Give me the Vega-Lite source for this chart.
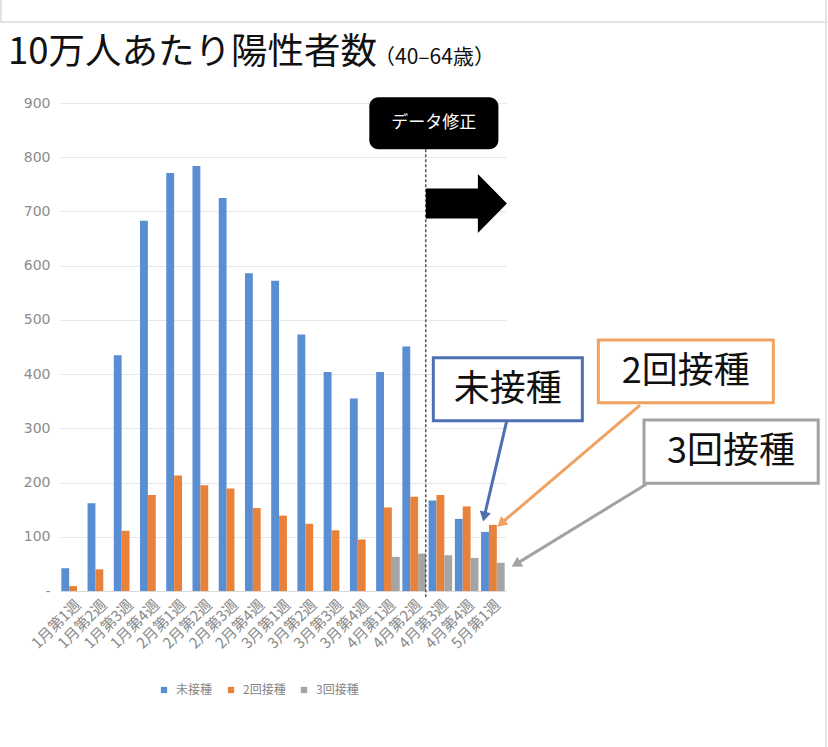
{
  "$schema": "https://vega.github.io/schema/vega-lite/v6.json",
  "width": 446,
  "height": 488,
  "autosize": {"type": "none"},
  "padding": {"left": 60, "top": 103, "right": 322, "bottom": 156},
  "background": "white",
  "datasets": {
    "bars": [
      {"week": "1月第1週", "type": "未接種", "value": 42},
      {"week": "1月第1週", "type": "2回接種", "value": 9},
      {"week": "1月第2週", "type": "未接種", "value": 162},
      {"week": "1月第2週", "type": "2回接種", "value": 40},
      {"week": "1月第3週", "type": "未接種", "value": 435},
      {"week": "1月第3週", "type": "2回接種", "value": 111},
      {"week": "1月第4週", "type": "未接種", "value": 683},
      {"week": "1月第4週", "type": "2回接種", "value": 177},
      {"week": "2月第1週", "type": "未接種", "value": 771},
      {"week": "2月第1週", "type": "2回接種", "value": 213},
      {"week": "2月第2週", "type": "未接種", "value": 784},
      {"week": "2月第2週", "type": "2回接種", "value": 195},
      {"week": "2月第3週", "type": "未接種", "value": 725},
      {"week": "2月第3週", "type": "2回接種", "value": 189},
      {"week": "2月第4週", "type": "未接種", "value": 586},
      {"week": "2月第4週", "type": "2回接種", "value": 153},
      {"week": "3月第1週", "type": "未接種", "value": 572},
      {"week": "3月第1週", "type": "2回接種", "value": 139},
      {"week": "3月第2週", "type": "未接種", "value": 473},
      {"week": "3月第2週", "type": "2回接種", "value": 124},
      {"week": "3月第3週", "type": "未接種", "value": 404},
      {"week": "3月第3週", "type": "2回接種", "value": 112},
      {"week": "3月第4週", "type": "未接種", "value": 355},
      {"week": "3月第4週", "type": "2回接種", "value": 95},
      {"week": "4月第1週", "type": "未接種", "value": 404},
      {"week": "4月第1週", "type": "2回接種", "value": 154},
      {"week": "4月第1週", "type": "3回接種", "value": 63},
      {"week": "4月第2週", "type": "未接種", "value": 451},
      {"week": "4月第2週", "type": "2回接種", "value": 174},
      {"week": "4月第2週", "type": "3回接種", "value": 69},
      {"week": "4月第3週", "type": "未接種", "value": 167},
      {"week": "4月第3週", "type": "2回接種", "value": 177},
      {"week": "4月第3週", "type": "3回接種", "value": 66},
      {"week": "4月第4週", "type": "未接種", "value": 133},
      {"week": "4月第4週", "type": "2回接種", "value": 156},
      {"week": "4月第4週", "type": "3回接種", "value": 61},
      {"week": "5月第1週", "type": "未接種", "value": 109},
      {"week": "5月第1週", "type": "2回接種", "value": 122},
      {"week": "5月第1週", "type": "3回接種", "value": 52}
    ],
    "callouts": [
      {"label": "未接種", "bx": 14.23, "bx2": 19.91, "by": 430.3, "by2": 314.1, "tx": 17.07, "ty": 370.7, "ax": 17.03, "ay": 314.1, "ax2": 16.17, "ay2": 137.0, "angle": 193},
      {"label": "2回接種", "bx": 20.52, "bx2": 27.19, "by": 462.9, "by2": 347.3, "tx": 23.85, "ty": 404.8, "ax": 22.11, "ay": 343.0, "ax2": 16.81, "ay2": 124.5, "angle": 229.5},
      {"label": "3回接種", "bx": 22.26, "bx2": 28.9, "by": 315.4, "by2": 198.6, "tx": 25.58, "ty": 256.9, "ax": 22.36, "ay": 197.3, "ax2": 17.38, "ay2": 49.6, "angle": 238.5}
    ],
    "frame": [
      {"x": -2.3, "x2": 29.3, "y": 1049.4, "y2": 1049.4},
      {"x": -2.25, "x2": -2.25, "y": 1090, "y2": 1049.4},
      {"x": 29.2, "x2": 29.2, "y": 1090, "y2": -288}
    ]
  },
  "resolve": {"scale": {"x": "independent"}},
  "layer": [
    {
      "data": {"name": "bars"},
      "mark": {"type": "bar"},
      "encoding": {
        "x": {
          "field": "week",
          "type": "nominal",
          "sort": null,
          "title": null,
          "scale": {"paddingInner": 0.1, "paddingOuter": 0.05},
          "axis": {
            "labelAngle": -45,
            "labelFont": "Noto Sans CJK JP",
            "labelFontSize": 15,
            "labelColor": "#8a8a8a",
            "labelPadding": 6,
            "ticks": false,
            "domainColor": "#d9d9d9",
            "grid": false
          }
        },
        "xOffset": {
          "field": "type",
          "type": "nominal",
          "sort": ["未接種", "2回接種", "3回接種"],
          "scale": {"domain": ["未接種", "2回接種", "3回接種"], "paddingInner": 0, "paddingOuter": 0}
        },
        "y": {
          "field": "value",
          "type": "quantitative",
          "title": null,
          "scale": {"domain": [0, 900], "nice": false},
          "axis": {
            "values": [0, 100, 200, 300, 400, 500, 600, 700, 800, 900],
            "labelExpr": "datum.value === 0 ? '-' : datum.label",
            "labelFont": "DejaVu Sans",
            "labelFontSize": 14,
            "labelColor": "#8c8c8c",
            "labelPadding": 10,
            "ticks": false,
            "domain": false,
            "gridColor": "#e6e6e6"
          }
        },
        "color": {
          "field": "type",
          "type": "nominal",
          "sort": ["未接種", "2回接種", "3回接種"],
          "scale": {"domain": ["未接種", "2回接種", "3回接種"], "range": ["#5a8ed3", "#e8823a", "#a5a5a5"]},
          "legend": {
            "title": null,
            "orient": "none",
            "direction": "horizontal",
            "legendX": 98,
            "legendY": 581,
            "symbolType": "square",
            "symbolSize": 40,
            "symbolStrokeWidth": 0,
            "labelFont": "Noto Sans CJK JP",
            "labelFontSize": 12,
            "labelColor": "#858585",
            "labelOffset": 6,
            "columnPadding": 12
          }
        }
      }
    },
    {
      "layer": [
        {
          "data": {"name": "frame"},
          "mark": {"type": "rule", "color": "#e3e3e3", "strokeWidth": 2},
          "encoding": {
            "x": {"field": "x", "type": "quantitative", "scale": {"domain": [0, 17], "nice": false, "zero": false}, "axis": null},
            "x2": {"field": "x2"},
            "y": {"field": "y", "type": "quantitative", "title": null, "scale": {"domain": [0, 900], "nice": false}},
            "y2": {"field": "y2"}
          }
        },
        {
          "data": {"values": [{"x": -1.98, "y": 972}]},
          "mark": {"type": "text", "text": "10万人あたり陽性者数", "align": "left", "baseline": "alphabetic", "font": "Noto Sans CJK JP", "fontSize": 36.5, "color": "#111111"},
          "encoding": {
            "x": {"field": "x", "type": "quantitative", "scale": {"domain": [0, 17], "nice": false, "zero": false}, "axis": null},
            "y": {"field": "y", "type": "quantitative", "title": null, "scale": {"domain": [0, 900], "nice": false}}
          }
        },
        {
          "data": {"values": [{"x": 11.97, "y": 972}]},
          "mark": {"type": "text", "text": "（40–64歳）", "align": "left", "baseline": "alphabetic", "font": "Noto Sans CJK JP", "fontSize": 21, "color": "#111111"},
          "encoding": {
            "x": {"field": "x", "type": "quantitative", "scale": {"domain": [0, 17], "nice": false, "zero": false}, "axis": null},
            "y": {"field": "y", "type": "quantitative", "title": null, "scale": {"domain": [0, 900], "nice": false}}
          }
        },
        {
          "data": {"values": [{"x": 13.94, "y": 814.6, "y2": -11}]},
          "mark": {"type": "rule", "color": "#555555", "strokeWidth": 1.5, "strokeDash": [3, 2]},
          "encoding": {
            "x": {"field": "x", "type": "quantitative", "scale": {"domain": [0, 17], "nice": false, "zero": false}, "axis": null},
            "y": {"field": "y", "type": "quantitative", "title": null, "scale": {"domain": [0, 900], "nice": false}},
            "y2": {"field": "y2"}
          }
        },
        {
          "data": {"values": [{"x": 11.79, "x2": 16.71, "y": 910.5, "y2": 814.6}]},
          "mark": {"type": "rect", "fill": "#000000", "cornerRadius": 9},
          "encoding": {
            "x": {"field": "x", "type": "quantitative", "scale": {"domain": [0, 17], "nice": false, "zero": false}, "axis": null},
            "x2": {"field": "x2"},
            "y": {"field": "y", "type": "quantitative", "title": null, "scale": {"domain": [0, 900], "nice": false}},
            "y2": {"field": "y2"}
          }
        },
        {
          "data": {"values": [{"x": 14.25, "y": 863}]},
          "mark": {"type": "text", "text": "データ修正", "align": "center", "baseline": "middle", "font": "Noto Sans CJK JP", "fontSize": 17, "color": "#ffffff"},
          "encoding": {
            "x": {"field": "x", "type": "quantitative", "scale": {"domain": [0, 17], "nice": false, "zero": false}, "axis": null},
            "y": {"field": "y", "type": "quantitative", "title": null, "scale": {"domain": [0, 900], "nice": false}}
          }
        },
        {
          "data": {"values": [{"x": 15.49, "y": 714.7}]},
          "mark": {
            "type": "point",
            "filled": true,
            "opacity": 1,
            "color": "#000000",
            "strokeWidth": 0,
            "size": 6561,
            "shape": "M -1 -0.37 L 0.284 -0.37 L 0.284 -0.728 L 1 0 L 0.284 0.728 L 0.284 0.37 L -1 0.37 Z"
          },
          "encoding": {
            "x": {"field": "x", "type": "quantitative", "scale": {"domain": [0, 17], "nice": false, "zero": false}, "axis": null},
            "y": {"field": "y", "type": "quantitative", "title": null, "scale": {"domain": [0, 900], "nice": false}}
          }
        },
        {
          "data": {"name": "callouts"},
          "mark": {"type": "rule", "strokeWidth": 3},
          "encoding": {
            "x": {"field": "ax", "type": "quantitative", "scale": {"domain": [0, 17], "nice": false, "zero": false}, "axis": null},
            "x2": {"field": "ax2"},
            "y": {"field": "ay", "type": "quantitative", "title": null, "scale": {"domain": [0, 900], "nice": false}},
            "y2": {"field": "ay2"},
            "stroke": {"field": "label", "type": "nominal", "scale": {"domain": ["未接種", "2回接種", "3回接種"], "range": ["#4d70b3", "#f0a360", "#a3a3a3"]}, "legend": null}
          }
        },
        {
          "data": {"name": "callouts"},
          "mark": {"type": "point", "shape": "triangle-up", "filled": true, "opacity": 1, "size": 130, "strokeWidth": 0},
          "encoding": {
            "x": {"field": "ax2", "type": "quantitative", "scale": {"domain": [0, 17], "nice": false, "zero": false}, "axis": null},
            "y": {"field": "ay2", "type": "quantitative", "title": null, "scale": {"domain": [0, 900], "nice": false}},
            "angle": {"field": "angle", "type": "quantitative", "scale": null},
            "fill": {"field": "label", "type": "nominal", "scale": {"domain": ["未接種", "2回接種", "3回接種"], "range": ["#4d70b3", "#f0a360", "#a3a3a3"]}, "legend": null}
          }
        },
        {
          "data": {"name": "callouts"},
          "mark": {"type": "rect", "fill": "#ffffff", "strokeWidth": 3},
          "encoding": {
            "x": {"field": "bx", "type": "quantitative", "scale": {"domain": [0, 17], "nice": false, "zero": false}, "axis": null},
            "x2": {"field": "bx2"},
            "y": {"field": "by", "type": "quantitative", "title": null, "scale": {"domain": [0, 900], "nice": false}},
            "y2": {"field": "by2"},
            "stroke": {"field": "label", "type": "nominal", "scale": {"domain": ["未接種", "2回接種", "3回接種"], "range": ["#4d70b3", "#f0a360", "#a3a3a3"]}, "legend": null}
          }
        },
        {
          "data": {"name": "callouts"},
          "mark": {"type": "text", "align": "center", "baseline": "middle", "font": "Noto Sans CJK JP", "fontSize": 36, "color": "#111111"},
          "encoding": {
            "x": {"field": "tx", "type": "quantitative", "scale": {"domain": [0, 17], "nice": false, "zero": false}, "axis": null},
            "y": {"field": "ty", "type": "quantitative", "title": null, "scale": {"domain": [0, 900], "nice": false}},
            "text": {"field": "label"}
          }
        }
      ]
    }
  ],
  "config": {
    "view": {"stroke": null},
    "font": "Noto Sans CJK JP"
  }
}
